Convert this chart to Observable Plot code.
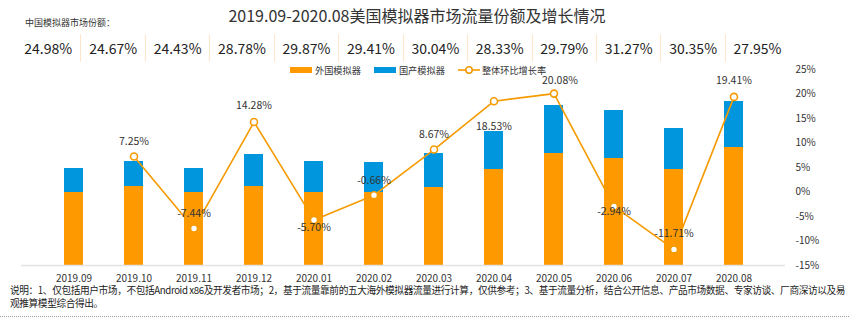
<!DOCTYPE html>
<html>
<head>
<meta charset="utf-8">
<script src="https://cdn.jsdelivr.net/npm/d3@7"></script>
<script src="https://cdn.jsdelivr.net/npm/@observablehq/plot@0.6"></script>
<style>
  html, body { margin: 0; padding: 0; background: #fff; }
  body { font-family: "Noto Sans CJK SC", "Noto Sans", sans-serif; color: #333; }
  #wrap { position: relative; width: 849px; height: 323px; overflow: hidden; }
  #chart { position: absolute; left: 0; top: 0; }
  .title { position: absolute; left: 0; width: 834px; top: 4px; text-align: center; font-size: 16px; color: #333; line-height: 22px; }
  .sublabel { position: absolute; left: 25px; top: 16px; font-size: 9px; color: #333; line-height: 14px; }
  .shares { position: absolute; left: 16px; top: 34px; height: 28px; display: flex; }
  .shares div { width: 64.45px; height: 28px; line-height: 28px; text-align: center; font-size: 14px; color: #222; box-sizing: border-box; }
  .shares div + div { border-left: 1px solid #fde6cc; }
  .legend { position: absolute; top: 63px; left: 290px; display: flex; align-items: center; font-size: 9.2px; color: #333; line-height: 14px; }
  .legend .item { display: flex; align-items: center; margin-right: 13px; }
  .legend .sw { width: 22px; height: 6px; margin-right: 3px; }
  .legend svg { margin-right: 2px; }
  .note { position: absolute; left: 10px; top: 284px; width: 838px; font-size: 9.7px; line-height: 13px; color: #222; letter-spacing: -0.4px; }
  .dots { position: absolute; left: 0; top: 316px; width: 849px; border-top: 1px dotted #999; }
</style>
</head>
<body>
<div id="wrap">
  <div id="chart"></div>
  <div class="title" id="title"></div>
  <div class="sublabel" id="sublabel"></div>
  <div class="shares" id="shares"></div>
  <div class="legend" id="legend"></div>
  <div class="note" id="note"></div>
  <div class="dots"></div>
</div>
<script>
// ---- data ----
const titleText = "2019.09-2020.08美国模拟器市场流量份额及增长情况";
const shareLabel = "中国模拟器市场份额：";
const months = ["2019.09","2019.10","2019.11","2019.12","2020.01","2020.02","2020.03","2020.04","2020.05","2020.06","2020.07","2020.08"];
const foreign = [73, 79, 73, 79, 73, 73, 78, 96, 112, 107, 96, 118];   // 外国模拟器 (relative traffic)
const domestic = [24, 25, 24, 32, 31, 30, 34, 38, 48, 48, 41, 46];    // 国产模拟器 (relative traffic)
const growth = [null, 7.25, -7.44, 14.28, -5.70, -0.66, 8.67, 18.53, 20.08, -2.94, -11.71, 19.41]; // 整体环比增长率 %
const shares = ["24.98%","24.67%","24.43%","28.78%","29.87%","29.41%","30.04%","28.33%","29.79%","31.27%","30.35%","27.95%"];
const seriesNames = ["外国模拟器", "国产模拟器", "整体环比增长率"];
const rightTicks = [-15, -10, -5, 0, 5, 10, 15, 20, 25];
const noteText = "说明：1、仅包括用户市场，不包括Android x86及开发者市场；2，基于流量靠前的五大海外模拟器流量进行计算，仅供参考；3、基于流量分析，结合公开信息、产品市场数据、专家访谈、厂商深访以及易观推算模型综合得出。";

// ---- style ----
const ORANGE = "#FE9A00";
const BLUE = "#0096DE";
const LINE = "#F59A00";
const labelDy = [0, -15, -15, -16, 8, -15, -15, 25, -13, 5, -16, -16];
const labelDx = [0, 0, 0, 0, 0, 0, 0, 0, 6, 0, 0, 0];

// bar units -> shared vertical scale: bars domain [0, BARMAX]; right axis [-15, 25]
const BARMAX = 196;
const pMin = -15, pMax = 25;
const toY = p => (p - pMin) / (pMax - pMin) * BARMAX;

const barRows = [];
months.forEach((m, i) => barRows.push({month: m, series: seriesNames[0], value: foreign[i]}));
months.forEach((m, i) => barRows.push({month: m, series: seriesNames[1], value: domestic[i]}));
const lineRows = months.map((m, i) => ({month: m, g: growth[i], i})).filter(d => d.g != null);

const labelMarks = lineRows.map(d => Plot.text([d], {
  x: "month", y: r => toY(r.g), text: r => r.g.toFixed(2) + "%",
  dy: labelDy[d.i], dx: labelDx[d.i], fill: "#333", fontSize: 10.5
}));

const plot = Plot.plot({
  width: 849,
  height: 323,
  marginTop: 69,
  marginBottom: 58,
  marginLeft: 21,
  marginRight: 64,
  style: {fontFamily: "'Noto Sans CJK SC', 'Noto Sans', sans-serif", fontSize: "10px", color: "#333", background: "transparent"},
  x: {domain: months, padding: 0.685, tickSize: 0, tickPadding: 9, label: null},
  y: {domain: [0, BARMAX], axis: "right", ticks: rightTicks.map(toY), tickFormat: v => Math.round(v / BARMAX * (pMax - pMin) + pMin) + "%", tickSize: 0, tickPadding: 10, label: null},
  color: {domain: seriesNames.slice(0, 2), range: [ORANGE, BLUE]},
  marks: [
    Plot.barY(barRows, {x: "month", y: "value", fill: "series"}),
    Plot.ruleY([0], {stroke: "#e3e3e3", strokeWidth: 1.5}),
    Plot.line(lineRows, {x: "month", y: d => toY(d.g), stroke: LINE, strokeWidth: 1.6}),
    Plot.dot(lineRows, {x: "month", y: d => toY(d.g), r: 3.5, fill: "#fff", stroke: LINE, strokeWidth: 1.6}),
    ...labelMarks
  ]
});
plot.querySelectorAll('[aria-label="y-axis tick label"] text, [aria-label="y-axis tick label"]').forEach(n => n.setAttribute("text-anchor", "start"));
document.getElementById("chart").appendChild(plot);

// ---- HTML texts ----
document.getElementById("title").textContent = titleText;
document.getElementById("sublabel").textContent = shareLabel;
const sh = document.getElementById("shares");
shares.forEach(s => { const d = document.createElement("div"); d.textContent = s; sh.appendChild(d); });
const lg = document.getElementById("legend");
[[seriesNames[0], ORANGE], [seriesNames[1], BLUE]].forEach(([n, c]) => {
  const it = document.createElement("div"); it.className = "item";
  it.innerHTML = `<span class="sw" style="background:${c}"></span><span>${n}</span>`;
  lg.appendChild(it);
});
const li = document.createElement("div"); li.className = "item";
li.innerHTML = `<svg width="22" height="10"><line x1="0" y1="5" x2="22" y2="5" stroke="${LINE}" stroke-width="1.6"/><circle cx="11" cy="5" r="3.2" fill="#fff" stroke="${LINE}" stroke-width="1.6"/></svg><span>${seriesNames[2]}</span>`;
lg.appendChild(li);
document.getElementById("note").textContent = noteText;
</script>
</body>
</html>
